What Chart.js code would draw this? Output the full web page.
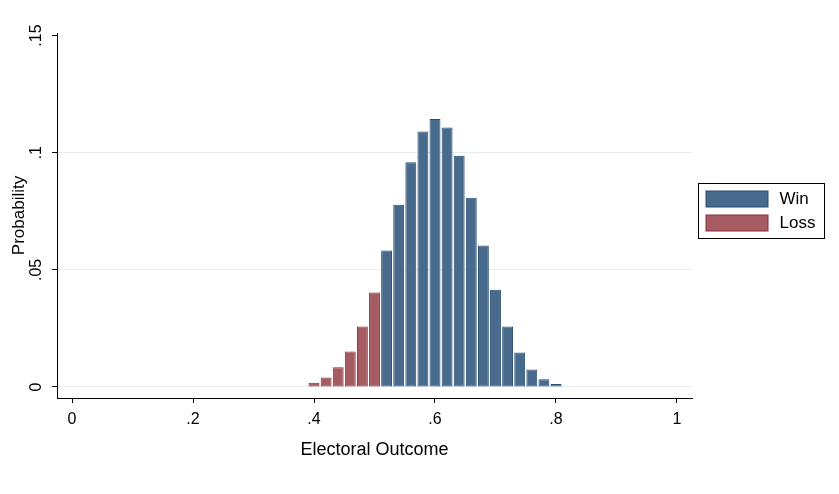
<!DOCTYPE html>
<html lang="en">
<head>
    <meta charset="UTF-8">
    <title>Electoral Outcome</title>
    <script src="https://cdn.jsdelivr.net/npm/chart.js"></script>
    <style>
        body { margin: 0; background: #fff; }
        #wrap { width: 839px; height: 494px; }
    </style>
</head>
<body>
    <div id="wrap"><canvas id="outcomeChart"></canvas></div>

    <script>
        // histogram bins (bin centres) and probabilities
        const lossBins = [0.40, 0.42, 0.44, 0.46, 0.48, 0.50];
        const lossProb = [0.0018, 0.0041, 0.0084, 0.0152, 0.0258, 0.0403];
        const winBins = [0.52, 0.54, 0.56, 0.58, 0.60, 0.62, 0.64, 0.66, 0.68, 0.70, 0.72, 0.74, 0.76, 0.78, 0.80];
        const winProb = [0.0583, 0.0778, 0.0959, 0.1091, 0.1144, 0.1108, 0.0987, 0.0808, 0.0604, 0.0415, 0.0258, 0.0147, 0.0075, 0.0033, 0.0013];
        const xTicks = [0, 0.2, 0.4, 0.6, 0.8, 1];
        const yTicks = [0, 0.05, 0.1, 0.15];

        const FONT = "'Liberation Sans', Arial, sans-serif";

        function stataLabel(v) {
            // Stata drops the leading zero: .2, .05
            let s = String(Math.round(v * 1000) / 1000);
            return s.replace(/^0\./, '.');
        }

        // boxed legend to the right of the plot, like Stata's
        const boxLegend = {
            id: 'boxLegend',
            afterDraw(chart) {
                const ctx = chart.ctx;
                const area = chart.chartArea;
                const left = area.right + 6.5;
                const width = 126;
                const height = 55;
                const top = Math.round((area.top + area.bottom) / 2 - 33) + 0.5;
                ctx.save();
                ctx.strokeStyle = '#000';
                ctx.lineWidth = 1;
                ctx.strokeRect(left, top, width, height);
                ctx.font = '17px ' + FONT;
                ctx.textBaseline = 'middle';
                chart.data.datasets.forEach((ds, i) => {
                    const y = top + 7.5 + i * 24;
                    ctx.fillStyle = ds.backgroundColor;
                    ctx.fillRect(left + 7.5, y, 62, 16);
                    ctx.strokeStyle = ds.borderColor;
                    ctx.strokeRect(left + 7.5, y, 62, 16);
                    ctx.fillStyle = '#000';
                    ctx.fillText(ds.label, left + 81, y + 8.5);
                });
                ctx.restore();
            }
        };

        const ctx = document.getElementById('outcomeChart').getContext('2d');
        const chart = new Chart(ctx, {
            type: 'bar',
            data: {
                datasets: [{
                    label: 'Win',
                    data: winBins.map((x, i) => ({ x: x, y: winProb[i] })),
                    backgroundColor: '#486a8c',
                    borderColor: '#284e74',
                    borderWidth: 1,
                    borderSkipped: false,
                    grouped: false,
                    barPercentage: 0.9,
                    categoryPercentage: 1
                }, {
                    label: 'Loss',
                    data: lossBins.map((x, i) => ({ x: x, y: lossProb[i] })),
                    backgroundColor: '#a65b63',
                    borderColor: '#8c2c38',
                    borderWidth: 1,
                    borderSkipped: false,
                    grouped: false,
                    barPercentage: 0.9,
                    categoryPercentage: 1
                }]
            },
            options: {
                responsive: true,
                maintainAspectRatio: false,
                animation: false,
                layout: { padding: { left: 0, right: 147, top: 33, bottom: 29 } },
                plugins: {
                    legend: { display: false },
                    tooltip: { enabled: false }
                },
                scales: {
                    x: {
                        type: 'linear',
                        offset: false,
                        min: -0.0248,
                        max: 1.0248,
                        afterBuildTicks: scale => { scale.ticks = xTicks.map(v => ({ value: v })); },
                        afterFit: scale => { scale.height = 67; },
                        grid: { offset: false, drawOnChartArea: false, drawTicks: true, tickLength: 5, tickColor: '#000' },
                        border: { display: true, color: '#000', width: 1 },
                        ticks: {
                            color: '#000',
                            padding: 7,
                            maxRotation: 0,
                            font: { family: FONT, size: 16 },
                            callback: v => stataLabel(v)
                        },
                        title: {
                            display: true,
                            text: 'Electoral Outcome',
                            color: '#000',
                            font: { family: FONT, size: 18 },
                            padding: { top: 4, bottom: 4 }
                        }
                    },
                    y: {
                        min: -0.0047,
                        max: 0.1511,
                        afterBuildTicks: scale => { scale.ticks = yTicks.map(v => ({ value: v })); },
                        afterFit: scale => { scale.width = 57; },
                        grid: {
                            color: c => (c.tick && c.tick.value === 0.15) ? 'rgba(0,0,0,0)' : '#e4ecef',
                            tickColor: '#000',
                            tickLength: 5
                        },
                        border: { display: true, color: '#000', width: 1 },
                        ticks: {
                            color: '#000',
                            padding: 4,
                            minRotation: 90,
                            maxRotation: 90,
                            crossAlign: 'center',
                            font: { family: FONT, size: 16 },
                            callback: v => stataLabel(v)
                        },
                        title: {
                            display: true,
                            text: 'Probability',
                            color: '#000',
                            font: { family: FONT, size: 17 },
                            padding: { top: 9, bottom: 4 }
                        }
                    }
                }
            },
            plugins: [boxLegend]
        });
    </script>
</body>
</html>
